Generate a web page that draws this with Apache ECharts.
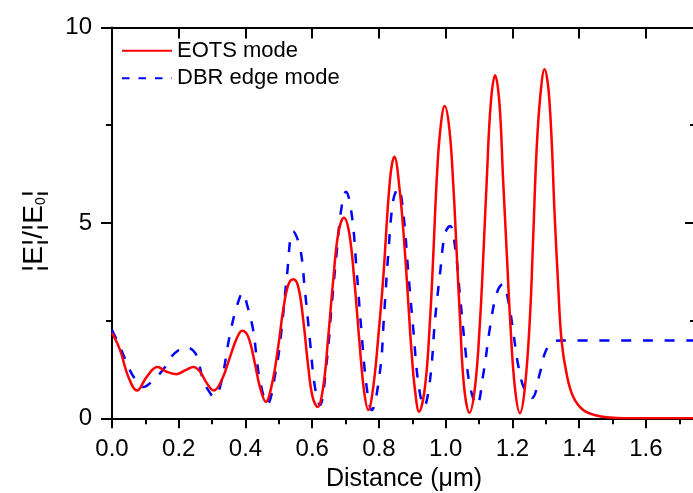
<!DOCTYPE html>
<html><head><meta charset="utf-8">
<script src="https://cdn.jsdelivr.net/npm/echarts@6/dist/echarts.min.js"></script>
<style>html,body{margin:0;padding:0;background:#fff}#c{width:693px;height:493px}</style>
</head><body><div id="c"></div>
<script>
// EOTS mode (red, solid)
const eotsX = [0, 0.024, 0.049, 0.075, 0.104, 0.136, 0.164, 0.193, 0.222, 0.244,
  0.264, 0.284, 0.305, 0.329, 0.354, 0.374, 0.39, 0.408, 0.428, 0.443,
  0.461, 0.48, 0.498, 0.513, 0.528, 0.543, 0.558, 0.573, 0.588, 0.601,
  0.616, 0.633, 0.648, 0.663, 0.678, 0.695, 0.711, 0.726, 0.741, 0.755,
  0.768, 0.783, 0.798, 0.813, 0.833, 0.846, 0.863, 0.878, 0.888, 0.898,
  0.908, 0.92, 0.938, 0.953, 0.963, 0.973, 0.984, 0.997, 1.011, 1.023,
  1.033, 1.043, 1.055, 1.071, 1.088, 1.103, 1.113, 1.123, 1.135, 1.148,
  1.161, 1.172, 1.183, 1.193, 1.207, 1.2225, 1.2375, 1.2525, 1.262, 1.2725,
  1.284, 1.296, 1.311, 1.327, 1.337, 1.347, 1.362, 1.382, 1.412, 1.452,
  1.492, 1.532, 1.75];
const eotsY = [2.19, 1.75, 1.06, 0.71, 1.06, 1.31, 1.19, 1.13, 1.24, 1.31,
  1.19, 0.9, 0.71, 0.98, 1.58, 2.05, 2.24, 2.09, 1.41, 0.81,
  0.42, 0.9, 1.83, 2.77, 3.41, 3.56, 3.37, 2.52, 1.32, 0.55,
  0.29, 0.81, 2.09, 3.54, 4.73, 5.13, 4.73, 3.54, 2.0, 0.72,
  0.21, 0.81, 2.09, 3.62, 6.1, 6.69, 5.76, 4.22, 2.94, 1.66,
  0.72, 0.17, 0.81, 2.52, 4.22, 6.1, 7.4, 7.99, 7.4, 5.93,
  4.22, 2.52, 0.81, 0.14, 0.81, 2.52, 4.22, 6.1, 8.06, 8.78,
  8.06, 6.1, 4.22, 2.52, 0.81, 0.13, 0.81, 2.6, 4.6, 6.9,
  8.3, 8.93, 8.1, 5.1, 3.4, 2.0, 1.15, 0.55, 0.21, 0.07,
  0.02, 0.0, 0.0];
// DBR edge mode (blue, dashed)
const dbrX = [0, 0.028, 0.053, 0.078, 0.092, 0.124, 0.158, 0.178, 0.2, 0.219,
  0.25, 0.273, 0.29, 0.305, 0.324, 0.354, 0.374, 0.392, 0.405, 0.423,
  0.433, 0.443, 0.465, 0.493, 0.508, 0.523, 0.543, 0.563, 0.578, 0.593,
  0.608, 0.623, 0.643, 0.658, 0.673, 0.688, 0.701, 0.718, 0.733, 0.748,
  0.763, 0.778, 0.803, 0.815, 0.828, 0.843, 0.858, 0.873, 0.888, 0.903,
  0.918, 0.935, 0.953, 0.968, 0.983, 0.998, 1.013, 1.028, 1.043, 1.058,
  1.073, 1.093, 1.113, 1.133, 1.153, 1.171, 1.187, 1.203, 1.218, 1.237,
  1.258, 1.282, 1.297, 1.317, 1.347, 1.75];
const dbrY = [2.26, 1.75, 1.24, 0.9, 0.8, 0.98, 1.3, 1.58, 1.75, 1.82,
  1.66, 0.98, 0.7, 0.55, 0.81, 2.17, 2.86, 3.21, 2.9, 2.26,
  1.58, 0.98, 0.37, 1.32, 2.26, 3.54, 4.78, 4.39, 3.28, 2.0,
  0.81, 0.34, 1.41, 2.86, 4.22, 5.41, 5.8, 5.24, 3.79, 2.17,
  0.81, 0.21, 1.2, 2.6, 4.22, 5.59, 5.89, 5.24, 3.71, 2.26,
  0.9, 0.3, 0.98, 2.52, 3.71, 4.73, 4.92, 4.39, 3.11, 1.83,
  0.81, 0.34, 1.15, 2.34, 3.2, 3.43, 3.03, 2.17, 1.32, 0.72,
  0.52, 1.15, 1.66, 1.93, 1.99, 1.99];
const seriesNames = ['EOTS mode', 'DBR edge mode'];
const xTitle = 'Distance (\u03bcm)';

function zip(xs, ys) {
  const n = Math.min(xs.length, ys.length);
  const out = [];
  for (let i = 0; i < n; i++) out.push([xs[i], ys[i]]);
  return out;
}

const FONT = '"Liberation Sans", Arial, sans-serif';
const BLK = '#000';
const axisLine = {show: true, onZero: false, lineStyle: {color: BLK, width: 2}};
const tickLine = {color: BLK, width: 2};
const noSymbol = {color: 'rgba(0,0,0,0)', borderWidth: 0, opacity: 0};

const chart = echarts.init(document.getElementById('c'), null, {renderer: 'canvas'});
chart.setOption({
  animation: false,
  backgroundColor: '#fff',
  grid: {left: 112, top: 27.5, width: 584, height: 390.8, containLabel: false, outerBoundsMode: 'none'},
  legend: {
    left: 121, top: 39.2, orient: 'vertical', padding: 0,
    itemWidth: 50, itemHeight: 14, itemGap: 4.6,
    itemStyle: noSymbol,
    textStyle: {fontSize: 22, lineHeight: 23, color: BLK, fontFamily: FONT},
    data: [{name: seriesNames[0], itemStyle: noSymbol},
           {name: seriesNames[1], itemStyle: noSymbol, lineStyle: {type: [7.5, 9]}}]
  },
  xAxis: [
    {type: 'value', position: 'bottom', min: 0, max: 1.75, interval: 0.2,
     axisLine: axisLine,
     axisTick: {show: true, length: 10, lineStyle: tickLine},
     axisLabel: {show: true, fontSize: 24, color: BLK, fontFamily: FONT, margin: 19,
                 formatter: v => v.toFixed(1), showMaxLabel: false},
     splitLine: {show: false},
     name: xTitle, nameLocation: 'middle', nameGap: 48,
     nameTextStyle: {fontSize: 25, color: BLK, fontFamily: FONT}},
    {type: 'value', position: 'bottom', min: 0, max: 1.75, interval: 0.1,
     axisLine: {show: false}, axisTick: {show: true, length: 5, lineStyle: tickLine},
     axisLabel: {show: false}, splitLine: {show: false}},
    {type: 'value', position: 'top', min: 0, max: 1.75, interval: 0.2,
     axisLine: axisLine, axisTick: {show: true, inside: true, length: 11, lineStyle: tickLine},
     axisLabel: {show: false}, splitLine: {show: false}},
    {type: 'value', position: 'top', min: 0, max: 1.75, interval: 0.1,
     axisLine: {show: false}, axisTick: {show: true, inside: true, length: 6, lineStyle: tickLine},
     axisLabel: {show: false}, splitLine: {show: false}}
  ],
  yAxis: [
    {type: 'value', position: 'left', min: 0, max: 10, interval: 5,
     axisLine: axisLine,
     axisTick: {show: true, length: 11, lineStyle: tickLine},
     minorTick: {show: true, splitNumber: 2, length: 6, lineStyle: tickLine},
     axisLabel: {show: true, fontSize: 24, color: BLK, fontFamily: FONT, margin: 20},
     splitLine: {show: false},
     name: '{m|\u00a6E\u00a6/\u00a6E}{s|0}{m|\u00a6}', nameLocation: 'middle', nameRotate: 90, nameGap: 64,
     nameTextStyle: {color: BLK, fontFamily: FONT, padding: [0, 16, 0, 0],
       rich: {
         m: {fontSize: 28, lineHeight: 28, verticalAlign: 'top', color: BLK, fontFamily: FONT},
         s: {fontSize: 14, lineHeight: 14, verticalAlign: 'bottom', padding: [22, 0, 0, 0], color: BLK, fontFamily: FONT}
       }}},
    {type: 'value', position: 'right', min: 0, max: 10, interval: 5,
     axisLine: axisLine,
     axisTick: {show: true, inside: true, length: 11, lineStyle: tickLine},
     minorTick: {show: true, splitNumber: 2, length: 6, lineStyle: tickLine},
     axisLabel: {show: false}, splitLine: {show: false}}
  ],
  series: [
    {name: seriesNames[0], type: 'line', xAxisIndex: 0, yAxisIndex: 0,
     data: zip(eotsX, eotsY), symbol: 'none', showSymbol: false, smooth: 0.4, z: 3,
     lineStyle: {color: '#ff0000', width: 2.5}, itemStyle: {color: '#ff0000'}},
    {name: seriesNames[1], type: 'line', xAxisIndex: 0, yAxisIndex: 0,
     data: zip(dbrX, dbrY), symbol: 'none', showSymbol: false, smooth: 0.4, z: 2,
     lineStyle: {color: '#0000ff', width: 2.5, type: [10, 11.7]}, itemStyle: {color: '#0000ff'}}
  ]
});
</script></body></html>
